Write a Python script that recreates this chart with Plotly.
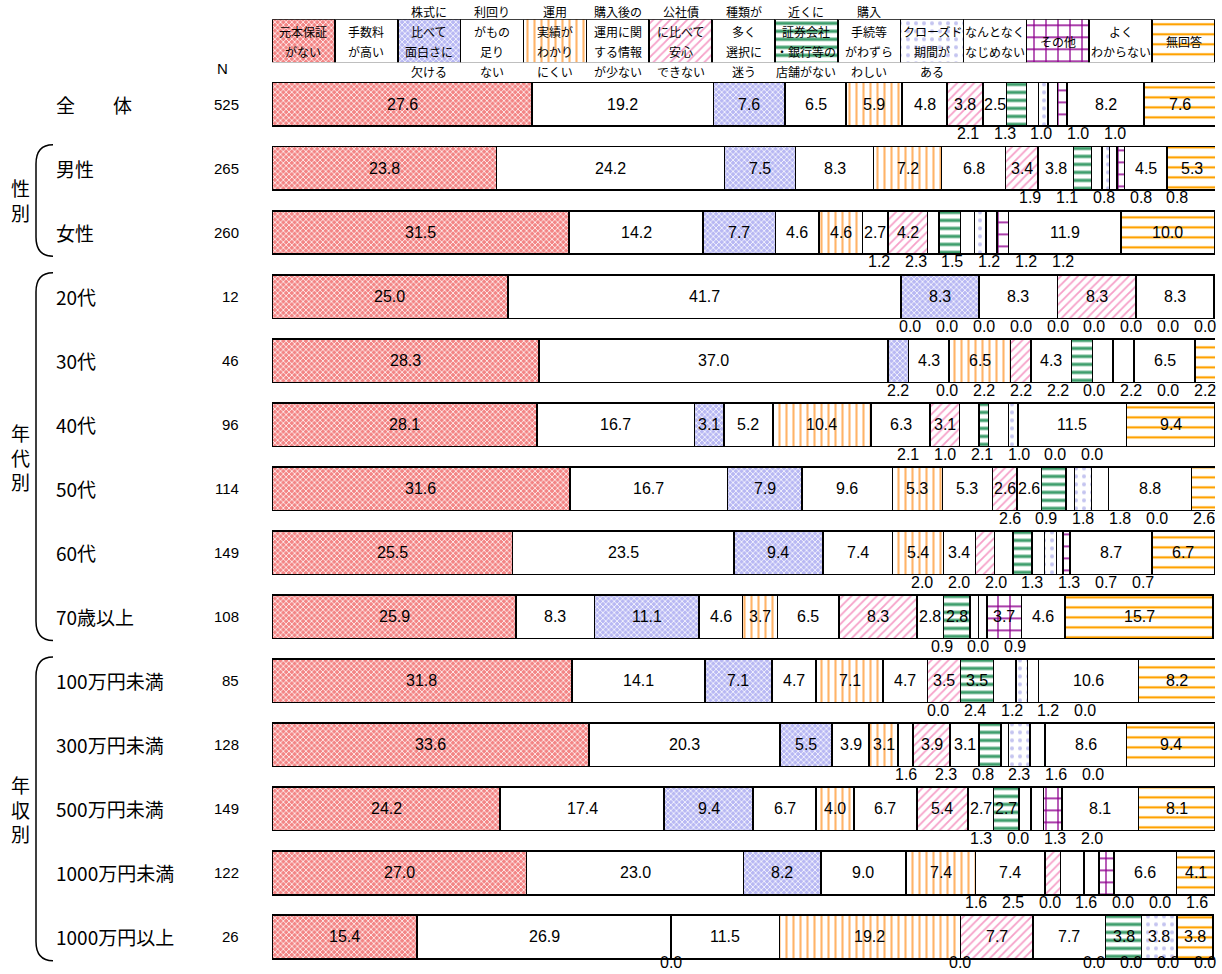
import plotly.graph_objects as go

# rows of the chart (respondent groups) and their N
rows = ["全　　体", "男性", "女性", "20代", "30代", "40代", "50代", "60代", "70歳以上",
        "100万円未満", "300万円未満", "500万円未満", "1000万円未満", "1000万円以上"]
n_resp = [525, 265, 260, 12, 46, 96, 114, 149, 108, 85, 128, 149, 122, 26]

reasons = ["元本保証がない", "手数料が高い", "株式に比べて面白さに欠ける", "利回りがもの足りない",
           "運用実績がわかりにくい", "購入後の運用に関する情報が少ない", "公社債に比べて安心できない",
           "種類が多く選択に迷う", "近くに証券会社・銀行等の店舗がない", "購入手続等がわずらわしい",
           "クローズド期間がある", "なんとなくなじめない", "その他", "よくわからない", "無回答"]

# header text as it is broken in the chart: above box / inside (2 lines) / below box
reason_lines = [
    ["", "元本保証", "がない", ""],
    ["", "手数料", "が高い", ""],
    ["株式に", "比べて", "面白さに", "欠ける"],
    ["利回り", "がもの", "足り", "ない"],
    ["運用", "実績が", "わかり", "にくい"],
    ["購入後の", "運用に関", "する情報", "が少ない"],
    ["公社債", "に比べて", "安心", "できない"],
    ["種類が", "多く", "選択に", "迷う"],
    ["近くに", "証券会社", "・銀行等の", "店舗がない"],
    ["購入", "手続等", "がわずら", "わしい"],
    ["", "クローズド", "期間が", "ある"],
    ["", "なんとなく", "なじめない", ""],
    ["", "その他", "", ""],
    ["", "よく", "わからない", ""],
    ["", "無回答", "", ""],
]

# percentages, one list per row, in the order of `reasons`
zentai    = [27.6, 19.2, 7.6, 6.5, 5.9, 4.8, 3.8, 2.5, 2.1, 1.3, 1.0, 1.0, 1.0, 8.2, 7.6]
male      = [23.8, 24.2, 7.5, 8.3, 7.2, 6.8, 3.4, 3.8, 1.9, 1.1, 0.8, 0.8, 0.8, 4.5, 5.3]
female    = [31.5, 14.2, 7.7, 4.6, 4.6, 2.7, 4.2, 1.2, 2.3, 1.5, 1.2, 1.2, 1.2, 11.9, 10.0]
age20     = [25.0, 41.7, 8.3, 8.3, 0.0, 0.0, 8.3, 0.0, 0.0, 0.0, 0.0, 0.0, 0.0, 8.3, 0.0]
age30     = [28.3, 37.0, 2.2, 4.3, 6.5, 0.0, 2.2, 4.3, 2.2, 2.2, 0.0, 2.2, 0.0, 6.5, 2.2]
age40     = [28.1, 16.7, 3.1, 5.2, 10.4, 6.3, 3.1, 2.1, 1.0, 2.1, 1.0, 0.0, 0.0, 11.5, 9.4]
age50     = [31.6, 16.7, 7.9, 9.6, 5.3, 5.3, 2.6, 2.6, 2.6, 0.9, 1.8, 1.8, 0.0, 8.8, 2.6]
age60     = [25.5, 23.5, 9.4, 7.4, 5.4, 3.4, 2.0, 2.0, 2.0, 1.3, 1.3, 0.7, 0.7, 8.7, 6.7]
age70     = [25.9, 8.3, 11.1, 4.6, 3.7, 6.5, 8.3, 2.8, 2.8, 0.9, 0.0, 0.9, 3.7, 4.6, 15.7]
inc100    = [31.8, 14.1, 7.1, 4.7, 7.1, 4.7, 3.5, 0.0, 3.5, 2.4, 1.2, 1.2, 0.0, 10.6, 8.2]
inc300    = [33.6, 20.3, 5.5, 3.9, 3.1, 1.6, 3.9, 3.1, 2.3, 0.8, 2.3, 1.6, 0.0, 8.6, 9.4]
inc500    = [24.2, 17.4, 9.4, 6.7, 4.0, 6.7, 5.4, 2.7, 2.7, 1.3, 0.0, 1.3, 2.0, 8.1, 8.1]
inc1000   = [27.0, 23.0, 8.2, 9.0, 7.4, 7.4, 1.6, 2.5, 0.0, 1.6, 0.0, 0.0, 1.6, 6.6, 4.1]
inc1000up = [15.4, 26.9, 0.0, 11.5, 19.2, 0.0, 7.7, 7.7, 3.8, 0.0, 3.8, 0.0, 0.0, 0.0, 3.8]

values = [zentai, male, female, age20, age30, age40, age50, age60, age70,
          inc100, inc300, inc500, inc1000, inc1000up]

groups = [("性<br>別", 1, 2), ("年<br>代<br>別", 3, 8), ("年<br>収<br>別", 9, 13)]

# small values are written under the bar; a few exceptions as in the original
INSIDE_MIN = 2.5
forced_below = {(6, 8), (6, 14), (12, 7)}

JP = "Noto Sans CJK JP"
NUM = "Liberation Sans"
W, H = 1222, 974
L, R = 272, 7

styles = [
    dict(bgcolor="#F38585", fgcolor="#FFFFFF", shape="x", size=4, solidity=0.35),
    None,
    dict(bgcolor="#B8B8F3", fgcolor="#FFFFFF", shape="x", size=4, solidity=0.35),
    None,
    dict(bgcolor="#FFFFFF", fgcolor="#FFB468", shape="|", size=7, solidity=0.3),
    None,
    dict(bgcolor="#FFFFFF", fgcolor="#F6A0C8", shape="/", size=6, solidity=0.3),
    None,
    dict(bgcolor="#FFFFFF", fgcolor="#3E9E6C", shape="-", size=8, solidity=0.4),
    None,
    dict(bgcolor="#FFFFFF", fgcolor="#C4C4F0", shape=".", size=8, solidity=0.2),
    None,
    dict(bgcolor="#FFFFFF", fgcolor="#8E008E", shape="+", size=12, solidity=0.2),
    None,
    dict(bgcolor="#FFFFFF", fgcolor="#FFA200", shape="-", size=10, solidity=0.22),
]


def marker_for(c):
    m = dict(color="white", line=dict(color="black", width=1.6))
    if styles[c] is not None:
        m["pattern"] = dict(fillmode="replace", **styles[c])
    return m


def px_x(px):
    return (px - L) / (W - L - R)


def px_y(px):
    return (H - px) / H


def spread(centers, gap=3.9, hi=98.9):
    # push overlapping labels apart, keeping each cluster centred on its bars
    grp = [[c] for c in centers]
    merged = True
    while merged:
        merged = False
        for i in range(len(grp) - 1):
            a, b = grp[i], grp[i + 1]
            a_end = sum(a) / len(a) + (len(a) - 1) * gap / 2
            b_start = sum(b) / len(b) - (len(b) - 1) * gap / 2
            if b_start - a_end < gap:
                grp[i] = a + b
                del grp[i + 1]
                merged = True
                break
    out = []
    for g in grp:
        start = sum(g) / len(g) - (len(g) - 1) * gap / 2
        out.extend(start + k * gap for k in range(len(g)))
    out[-1] = min(out[-1], hi)
    for k in range(len(out) - 2, -1, -1):
        out[k] = min(out[k], out[k + 1] - gap)
    return out


ypos = list(range(len(rows)))
fig = go.Figure()

for c in range(len(reasons)):
    fig.add_trace(go.Bar(
        y=ypos, x=[values[r][c] for r in ypos], orientation="h", width=0.68,
        marker=marker_for(c), name=reasons[c], hoverinfo="x+name", textposition="none",
    ))
    # header tile
    fig.add_trace(go.Bar(
        y=[0], x=[1], orientation="h", width=1, xaxis="x2", yaxis="y2",
        marker=marker_for(c), name=reasons[c], hoverinfo="name",
    ))

ann = []
val_font = dict(family=NUM, size=16, color="black")
# value labels: inside the segment, or in a row under the bar for small ones
for r in ypos:
    cum = 0
    centers, labels = [], []
    for c, v in enumerate(values[r]):
        if v >= INSIDE_MIN and (r, c) not in forced_below:
            ann.append(dict(x=cum + v / 2, y=r, xref="x", yref="y", text=f"{v:.1f}",
                            showarrow=False, xanchor="center", yanchor="middle", font=val_font))
        else:
            centers.append(cum + v / 2)
            labels.append(f"{v:.1f}")
        cum += v
    if centers:
        off = 0.46 if r < len(rows) - 1 else 0.4
        for x, t in zip(spread(centers), labels):
            ann.append(dict(x=x, y=r + off, xref="x", yref="y", text=t, showarrow=False,
                            xanchor="center", yanchor="middle", font=val_font))

# header texts (paper coordinates so that the lines outside the tiles are kept)
for c, lines in enumerate(reason_lines):
    above, in1, in2, below = lines
    spots = [(above, 12), (below, 71)]
    if in2:
        spots += [(in1, 31), (in2, 51)]
    else:
        spots += [(in1, 41)]
    for t, ypx in spots:
        if t:
            ann.append(dict(x=(c + 0.5) / 15, y=px_y(ypx), xref="paper", yref="paper", text=t,
                            xanchor="center", yanchor="middle", showarrow=False,
                            font=dict(family=JP, size=12, color="black")))

# row labels and N
for r in ypos:
    ann.append(dict(x=px_x(54), y=r, xref="paper", yref="y", xanchor="left", yanchor="middle",
                    text=rows[r], showarrow=False, font=dict(family=JP, size=19, color="black")))
    ann.append(dict(x=px_x(241), y=r, xref="paper", yref="y", xanchor="right", yanchor="middle",
                    text=str(n_resp[r]), showarrow=False,
                    font=dict(family=NUM, size=15, color="black")))
ann.append(dict(x=px_x(222), y=px_y(68), xref="paper", yref="paper", text="N", showarrow=False,
                xanchor="center", yanchor="middle", font=dict(family=NUM, size=15, color="black")))

shapes = []
x_line, x_end = px_x(36), px_x(53)
for name, r0, r1 in groups:
    ann.append(dict(x=px_x(20), y=(r0 + r1) / 2, xref="paper", yref="y", xanchor="center",
                    yanchor="middle", text=name, showarrow=False,
                    font=dict(family=JP, size=19, color="black")))
    yt, yb = r0 - 0.37, r1 + 0.37
    path = (f"M {x_end},{yt} Q {x_line},{yt} {x_line},{yt + 0.3} "
            f"L {x_line},{yb - 0.3} Q {x_line},{yb} {x_end},{yb}")
    shapes.append(dict(type="path", path=path, xref="paper", yref="y",
                       line=dict(color="black", width=1.5)))

fig.update_layout(
    width=W, height=H,
    margin=dict(l=L, r=R, t=0, b=0),
    barmode="stack", showlegend=False,
    plot_bgcolor="white", paper_bgcolor="white",
    xaxis=dict(range=[0, 100], visible=False, domain=[0, 1]),
    yaxis=dict(range=[13.5, -0.5], visible=False, domain=[px_y(969), px_y(72.4)]),
    xaxis2=dict(range=[0, 15], visible=False, domain=[0, 1], anchor="y2"),
    yaxis2=dict(range=[-0.5, 0.5], visible=False, domain=[px_y(62.3), px_y(19.3)], anchor="x2"),
    annotations=ann, shapes=shapes,
)

fig.write_html("out.html", config={"displayModeBar": False},
               post_script="document.body.style.margin='0';document.body.style.overflow='hidden';")
